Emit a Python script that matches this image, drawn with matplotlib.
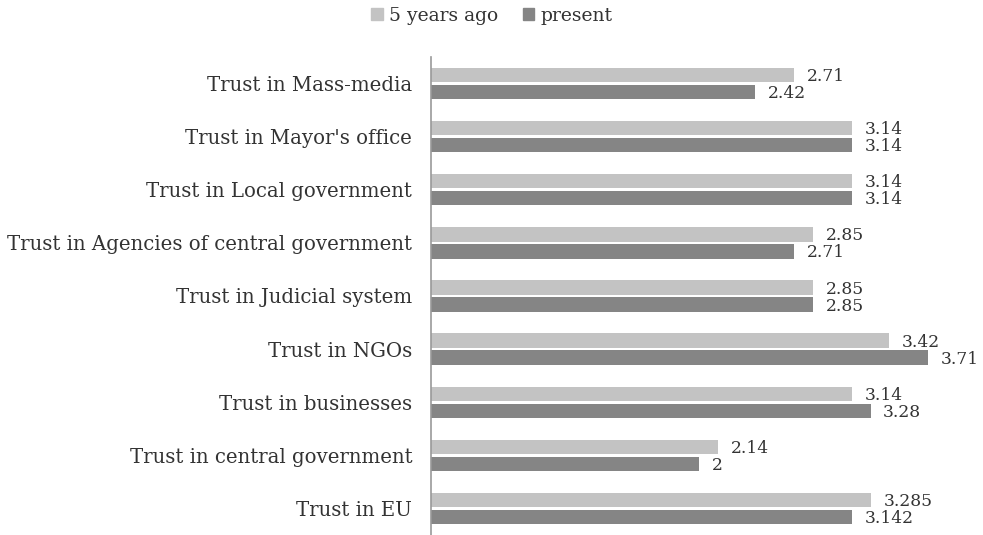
import matplotlib
matplotlib.use("Agg")
import matplotlib.pyplot as plt
from matplotlib.patches import Patch
import numpy as np

categories = ["Trust in Mass-media", "Trust in Mayor's office", "Trust in Local government",
              "Trust in Agencies of central government", "Trust in Judicial system",
              "Trust in NGOs", "Trust in businesses", "Trust in central government",
              "Trust in EU"]
years_ago = [2.71, 3.14, 3.14, 2.85, 2.85, 3.42, 3.14, 2.14, 3.285]
present = [2.42, 3.14, 3.14, 2.71, 2.85, 3.71, 3.28, 2, 3.142]
labels_ago = ["2.71", "3.14", "3.14", "2.85", "2.85", "3.42", "3.14", "2.14", "3.285"]
labels_present = ["2.42", "3.14", "3.14", "2.71", "2.85", "3.71", "3.28", "2", "3.142"]

plt.rcParams['font.family'] = ['DejaVu Serif']
light = "#c3c3c3"
dark = "#858585"
txt = "#333333"

fig = plt.figure(figsize=(9.83, 5.35), dpi=100)
ax = fig.add_axes([431/983, 0, (967-431)/983, (535-57)/535])

y = np.arange(len(categories))
h = 0.27
off = 0.16
ax.barh(y - off, years_ago, height=h, color=light, linewidth=0)
ax.barh(y + off, present, height=h, color=dark, linewidth=0)

for yi, v, s in zip(y, years_ago, labels_ago):
    ax.text(v + 0.095, yi - off + 0.03, s, va='center', ha='left', fontsize=12.3, color=txt)
for yi, v, s in zip(y, present, labels_present):
    ax.text(v + 0.095, yi + off + 0.03, s, va='center', ha='left', fontsize=12.3, color=txt)

ax.set_xlim(0, 4)
ax.set_ylim(len(categories) - 0.5, -0.5)
ax.set_yticks(y)
ax.set_yticklabels(categories, fontsize=14.2, color=txt)
ax.tick_params(axis='y', length=0, pad=13.5)
ax.set_xticks([])
for s in ['top', 'right', 'bottom']:
    ax.spines[s].set_visible(False)
ax.spines['left'].set_color('#999999')
ax.spines['left'].set_linewidth(1.2)

handles = [Patch(color=light, label="5 years ago"), Patch(color=dark, label="present")]
fig.legend(handles=handles, loc='center', bbox_to_anchor=(492/983, 1 - 16/535), ncol=2,
           frameon=False, fontsize=13.5, handlelength=0.6, handleheight=0.6,
           handletextpad=0.35, columnspacing=1.3, labelcolor=txt)

fig.savefig("out.png", dpi=100)
